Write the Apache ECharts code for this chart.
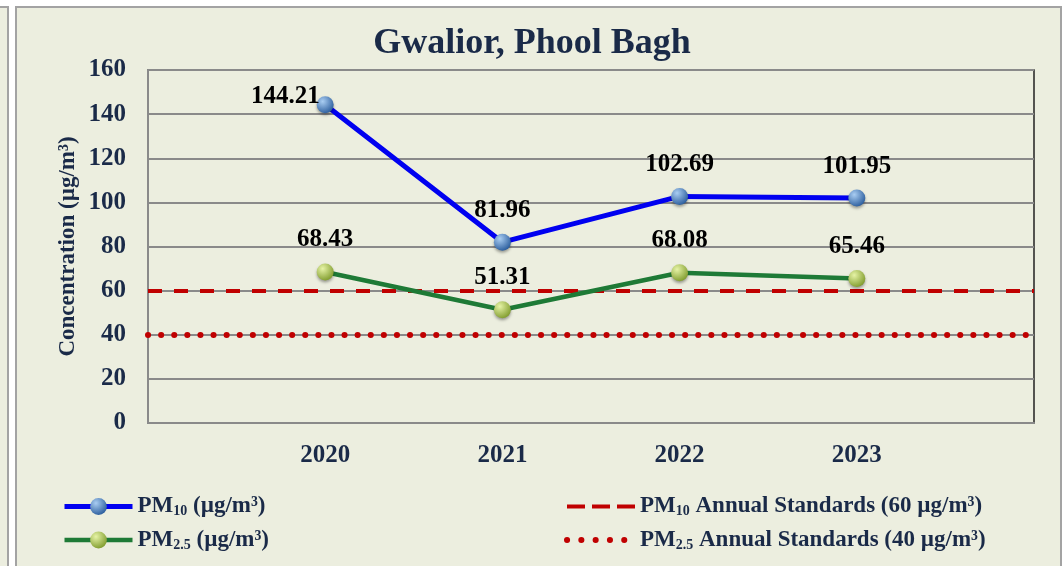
<!DOCTYPE html>
<html>
<head>
<meta charset="utf-8">
<script src="https://cdn.jsdelivr.net/npm/echarts@6/dist/echarts.min.js"></script>
<style>
html,body{margin:0;padding:0;background:#fff;}
#chart{width:1064px;height:566px;}
</style>
</head>
<body>
<div id="chart"></div>
<script>
// ---- data ----
var categories = ['', '2020', '2021', '2022', '2023', ''];
var pm10 = ['-', 144.21, 81.96, 102.69, 101.95, '-'];
var pm25 = ['-', 68.43, 51.31, 68.08, 65.46, '-'];
var PM10_STD = 60;
var PM25_STD = 40;
var yTicks = [0, 20, 40, 60, 80, 100, 120, 140, 160];

var FONT = '"Liberation Serif", "Times New Roman", serif';
var NAVY = '#1a2a48';

var names = {
  pm10: 'PM10 (µg/m³)',
  pm25: 'PM2.5 (µg/m³)',
  std10: 'PM10 Annual Standards (60 µg/m³)',
  std25: 'PM2.5 Annual Standards (40 µg/m³)'
};
var richNames = {};
richNames[names.pm10] = '{a|PM}{s|10}{a| (µg/m³)}';
richNames[names.pm25] = '{a|PM}{s|2.5}{a| (µg/m³)}';
richNames[names.std10] = '{a|PM}{s|10}{a| Annual Standards (60 µg/m³)}';
richNames[names.std25] = '{a|PM}{s|2.5}{a| Annual Standards (40 µg/m³)}';

function sphere(light, dark) {
  return new echarts.graphic.RadialGradient(0.35, 0.3, 0.75, [
    {offset: 0, color: light},
    {offset: 1, color: dark}
  ]);
}

function buildData(arr, specialIdx) {
  return arr.map(function (v, i) {
    if (i === specialIdx) {
      return {value: v, label: {position: 'left', distance: -3, offset: [0, -8]}};
    }
    return v;
  });
}

var legendText = {
  fontFamily: FONT, fontWeight: 'bold', fontSize: 23, color: NAVY,
  rich: {
    a: {fontFamily: FONT, fontWeight: 'bold', fontSize: 23, color: NAVY, lineHeight: 24},
    s: {fontFamily: FONT, fontWeight: 'bold', fontSize: 14, color: NAVY, lineHeight: 24, verticalAlign: 'bottom'}
  }
};

var blueSphere = sphere('#a9cdf2', '#2a5c9c');
var greenSphere = sphere('#e6f3a6', '#7f9b2c');

var chart = echarts.init(document.getElementById('chart'), null, {renderer: 'canvas'});
var option = {
  backgroundColor: '#ffffff',
  animation: false,
  graphic: [
    {type: 'rect', z: -10, shape: {x: -20, y: 7, width: 28, height: 600}, style: {fill: '#eceedf', stroke: '#a3a3a3', lineWidth: 2}},
    {type: 'rect', z: -10, shape: {x: 16, y: 7, width: 1045, height: 600}, style: {fill: '#eceedf', stroke: '#a3a3a3', lineWidth: 2}}
  ],
  title: {
    text: 'Gwalior, Phool Bagh',
    left: 'center',
    top: 21,
    textStyle: {fontFamily: FONT, fontWeight: 'bold', fontSize: 36, color: NAVY}
  },
  grid: {
    left: 148, right: 30, top: 70, bottom: 143,
    show: true, borderColor: '#222', borderWidth: 1.5, backgroundColor: 'transparent'
  },
  legend: [
    {
      data: [
        {name: names.pm10, lineStyle: {color: '#0000f0', width: 5}},
        {name: names.pm25, lineStyle: {color: '#1e7a36', width: 4.5}}
      ],
      orient: 'vertical', left: 62, top: 495, padding: 0,
      itemWidth: 68, itemHeight: 21, itemGap: 10,
      formatter: function (n) { return richNames[n]; },
      textStyle: legendText
    },
    {
      data: [
        {name: names.std10, lineStyle: {color: '#c00000', width: 4, type: [18, 7]}},
        {name: names.std25, lineStyle: {color: '#c00000', width: 6, type: [0.1, 14.2], cap: 'round'}}
      ],
      orient: 'vertical', left: 564, top: 495, padding: 0,
      itemWidth: 68, itemHeight: 21, itemGap: 10,
      formatter: function (n) { return richNames[n]; },
      textStyle: legendText
    }
  ],
  xAxis: {
    type: 'category',
    data: categories,
    boundaryGap: false,
    axisLine: {lineStyle: {color: '#8a8a8a', width: 2}},
    axisTick: {show: false},
    axisLabel: {fontFamily: FONT, fontWeight: 'bold', fontSize: 25, color: NAVY, margin: 20},
    splitLine: {show: false}
  },
  yAxis: {
    type: 'value',
    min: yTicks[0], max: yTicks[yTicks.length - 1], interval: 20,
    name: 'Concentration (µg/m³)',
    nameLocation: 'middle',
    nameGap: 68,
    nameMoveOverlap: false,
    nameTextStyle: {fontFamily: FONT, fontWeight: 'bold', fontSize: 23, color: NAVY},
    axisLine: {show: true, lineStyle: {color: '#8a8a8a', width: 2}},
    axisTick: {show: false},
    axisLabel: {fontFamily: FONT, fontWeight: 'bold', fontSize: 25, color: NAVY, margin: 22},
    splitLine: {show: true, lineStyle: {color: '#8a8a8a', width: 2}}
  },
  series: [
    {
      name: names.std10,
      type: 'line',
      data: [],
      symbol: 'none',
      itemStyle: {color: 'rgba(0,0,0,0)'},
      lineStyle: {color: '#c00000', width: 4, type: [14, 12]},
      markLine: {
        silent: true, symbol: 'none', label: {show: false},
        lineStyle: {color: '#c00000', width: 4, type: [14, 12]},
        data: [{yAxis: PM10_STD}]
      },
      z: 3
    },
    {
      name: names.std25,
      type: 'line',
      data: [],
      symbol: 'none',
      itemStyle: {color: 'rgba(0,0,0,0)'},
      lineStyle: {color: '#c00000', width: 6, type: [0.1, 13], cap: 'round'},
      markLine: {
        silent: true, symbol: 'none', label: {show: false},
        lineStyle: {color: '#c00000', width: 6, type: [0.1, 13], cap: 'round'},
        data: [{yAxis: PM25_STD}]
      },
      z: 3
    },
    {
      name: names.pm10,
      type: 'line',
      data: buildData(pm10, 1),
      symbol: 'circle',
      symbolSize: 17,
      lineStyle: {color: '#0000f0', width: 5},
      itemStyle: {color: blueSphere, shadowBlur: 3, shadowColor: 'rgba(0,0,0,0.35)', shadowOffsetY: 2},
      label: {show: true, position: 'top', distance: 11, fontFamily: FONT, fontWeight: 'bold', fontSize: 25, color: '#000'},
      z: 5
    },
    {
      name: names.pm25,
      type: 'line',
      data: buildData(pm25, -1),
      symbol: 'circle',
      symbolSize: 17,
      lineStyle: {color: '#1e7a36', width: 4.5},
      itemStyle: {color: greenSphere, shadowBlur: 3, shadowColor: 'rgba(0,0,0,0.35)', shadowOffsetY: 2},
      label: {show: true, position: 'top', distance: 11, fontFamily: FONT, fontWeight: 'bold', fontSize: 25, color: '#000'},
      z: 5
    }
  ]
};
chart.setOption(option);
</script>
</body>
</html>
